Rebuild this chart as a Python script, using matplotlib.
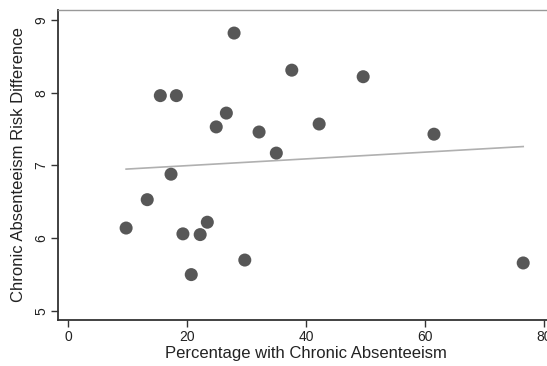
import numpy as np
import matplotlib
matplotlib.use("Agg")
import matplotlib.pyplot as plt

# values
pct_absent = [9.75, 13.3, 15.5, 17.3, 18.2, 19.3, 20.7, 22.2, 23.4, 24.9,
              26.6, 27.9, 29.7, 32.1, 35.0, 37.6, 42.2, 49.6, 61.5, 76.5]
risk_diff = [6.14, 6.53, 7.96, 6.88, 7.96, 6.06, 5.50, 6.05, 6.22, 7.53,
             7.72, 8.82, 5.70, 7.46, 7.17, 8.31, 7.57, 8.22, 7.43, 5.66]

# fitted line endpoints as drawn
fit_x = [9.75, 76.5]
fit_y = [6.95, 7.26]

x_ticks = [0, 20, 40, 60, 80]
y_ticks = [5, 6, 7, 8, 9]

plt.rcParams['font.family'] = ['Liberation Sans', 'DejaVu Sans']

fig = plt.figure(figsize=(5.47, 3.66), dpi=100)
ax = fig.add_axes([58 / 547, 46 / 366, 489 / 547, 310 / 366])

ax.plot(fit_x, fit_y, color='#b0b0b0', lw=1.2, zorder=2)
ax.scatter(pct_absent, risk_diff, s=88, color='#575757', edgecolors='none', zorder=3)

ax.set_xlim(-1.7, 80.5)
ax.set_ylim(4.876, 9.137)
ax.set_xticks(x_ticks)
ax.set_yticks(y_ticks)
ax.set_yticklabels([str(v) for v in y_ticks], rotation=90, va='center')

for side in ['left', 'bottom']:
    ax.spines[side].set_color('#333333')
    ax.spines[side].set_linewidth(1.3)
ax.spines['top'].set_color('#999999')
ax.spines['top'].set_linewidth(1.0)
ax.spines['right'].set_visible(False)

ax.tick_params(axis='both', direction='out', length=5, width=1, color='#333333',
               labelsize=10, labelcolor='#222222', pad=2)

ax.set_xlabel('Percentage with Chronic Absenteeism', fontsize=12, color='#222222', labelpad=3)
ax.xaxis.set_label_coords(0.508, -0.085)
ax.xaxis.label.set_va('top')
ax.set_ylabel('Chronic Absenteeism Risk Difference', fontsize=12, color='#222222', labelpad=6)

fig.savefig('out.png', dpi=100)
